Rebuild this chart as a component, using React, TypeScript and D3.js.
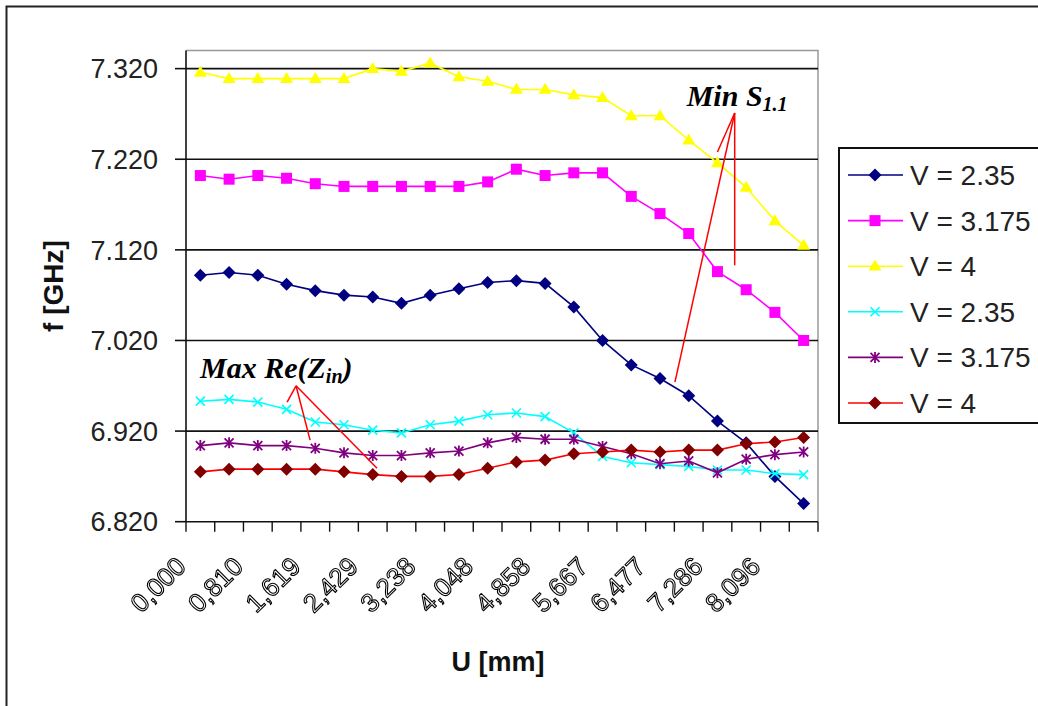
import React from "react";
import * as d3 from "d3";

// Displacement U [mm] (category axis, every second label is drawn)
const uCategories = [
  "0,000", "0,405", "0,810", "1,214", "1,619", "2,024", "2,429", "2,834",
  "3,238", "3,643", "4,048", "4,453", "4,858", "5,262", "5,667", "6,072",
  "6,477", "6,881", "7,286", "7,691", "8,096", "8,501",
];

// Frequency [GHz] of minimum S1.1
const minS11_v235 = [
  7.092, 7.095, 7.092, 7.082, 7.075, 7.070, 7.068, 7.061, 7.070, 7.077, 7.084,
  7.086, 7.083, 7.057, 7.020, 6.993, 6.978, 6.959, 6.931, 6.907, 6.870, 6.840,
];
const minS11_v3175 = [
  7.202, 7.198, 7.202, 7.199, 7.193, 7.190, 7.190, 7.190, 7.190, 7.190, 7.195,
  7.209, 7.202, 7.205, 7.205, 7.179, 7.160, 7.138, 7.096, 7.076, 7.051, 7.020,
];
const minS11_v4 = [
  7.316, 7.309, 7.309, 7.309, 7.309, 7.309, 7.320, 7.317, 7.326, 7.311, 7.306,
  7.297, 7.297, 7.291, 7.288, 7.268, 7.268, 7.241, 7.216, 7.189, 7.152, 7.125,
];
// Frequency [GHz] of maximum Re(Zin)
const maxRe_v235 = [
  6.953, 6.955, 6.952, 6.944, 6.930, 6.927, 6.921, 6.918, 6.927, 6.931, 6.938,
  6.940, 6.936, 6.918, 6.892, 6.885, 6.883, 6.881, 6.877, 6.877, 6.873, 6.872,
];
const maxRe_v3175 = [
  6.904, 6.907, 6.904, 6.904, 6.901, 6.896, 6.893, 6.893, 6.896, 6.898, 6.907,
  6.913, 6.911, 6.911, 6.903, 6.895, 6.884, 6.887, 6.874, 6.889, 6.894, 6.897,
];
const maxRe_v4 = [
  6.875, 6.878, 6.878, 6.878, 6.878, 6.875, 6.872, 6.870, 6.870, 6.872, 6.879,
  6.886, 6.888, 6.895, 6.897, 6.899, 6.897, 6.899, 6.899, 6.906, 6.908, 6.913,
];

const yTicks = [6.82, 6.92, 7.02, 7.12, 7.22, 7.32];
const legendLabels = ["V = 2.35", "V = 3.175", "V = 4", "V = 2.35", "V = 3.175", "V = 4"];

type Marker = "diamond" | "square" | "triangle" | "cross" | "star";
interface Series {
  values: number[];
  line: string;
  fill: string;
  marker: Marker;
}

const series: Series[] = [
  { values: minS11_v235, line: "#000080", fill: "#000080", marker: "diamond" },
  { values: minS11_v3175, line: "#FF00FF", fill: "#FF00FF", marker: "square" },
  { values: minS11_v4, line: "#FFFF00", fill: "#FFFF00", marker: "triangle" },
  { values: maxRe_v235, line: "#00FFFF", fill: "#00FFFF", marker: "cross" },
  { values: maxRe_v3175, line: "#800080", fill: "#800080", marker: "star" },
  { values: maxRe_v4, line: "#FF0000", fill: "#800000", marker: "diamond" },
];

// Callouts: apex and targets in (category index, GHz)
const minS11Callout = {
  apex: [18.6, 7.271] as [number, number],
  targets: [[18.0, 7.228], [16.52, 6.974], [18.6, 7.103]] as [number, number][],
};
const maxReCallout = {
  apex: [3.33, 6.970] as [number, number],
  targets: [[3.02, 6.952], [3.82, 6.910], [6.15, 6.879]] as [number, number][],
};

const W = 1038;
const H = 706;
const plot = { left: 186, right: 818, top: 50.5, bottom: 521.7 };
const SANS = "'Liberation Sans', Arial, sans-serif";
const SERIF = "'Liberation Serif', 'Times New Roman', serif";

function markerShape(m: Marker, cx: number, cy: number, fill: string, key: string | number) {
  switch (m) {
    case "diamond": {
      const r = 6.5;
      return <path key={key} d={`M${cx},${cy - r}L${cx + r},${cy}L${cx},${cy + r}L${cx - r},${cy}Z`} fill={fill} />;
    }
    case "square": {
      const s = 11;
      return <rect key={key} x={cx - s / 2} y={cy - s / 2} width={s} height={s} fill={fill} />;
    }
    case "triangle": {
      const w = 13, h = 11;
      return <path key={key} d={`M${cx},${cy - h * 0.6}L${cx + w / 2},${cy + h * 0.4}L${cx - w / 2},${cy + h * 0.4}Z`} fill={fill} />;
    }
    case "cross": {
      const r = 4.5;
      return (
        <path key={key} d={`M${cx - r},${cy - r}L${cx + r},${cy + r}M${cx - r},${cy + r}L${cx + r},${cy - r}`}
          stroke={fill} strokeWidth={1.6} fill="none" />
      );
    }
    case "star": {
      const r = 4.5;
      return (
        <path key={key}
          d={`M${cx - r},${cy - r}L${cx + r},${cy + r}M${cx - r},${cy + r}L${cx + r},${cy - r}M${cx},${cy - r - 1}L${cx},${cy + r + 1}`}
          stroke={fill} strokeWidth={1.8} fill="none" />
      );
    }
  }
}

export default function App() {
  const x = d3.scaleBand<number>()
    .domain(d3.range(uCategories.length))
    .range([plot.left, plot.right])
    .padding(0);
  const cx = (i: number) => plot.left + (i + 0.5) * x.step();
  const y = d3.scaleLinear().domain([6.82, 7.34]).range([plot.bottom, plot.top]);
  const line = d3.line<number>().x((_, i) => cx(i)).y((v) => y(v));
  const fmtY = d3.format(".3f");

  const callout = (c: { apex: [number, number]; targets: [number, number][] }, key: string) => (
    <g key={key} stroke="#FF0000" strokeWidth={1.5} fill="none">
      {c.targets.map((t, i) => (
        <line key={i} x1={cx(c.apex[0])} y1={y(c.apex[1])} x2={cx(t[0])} y2={y(t[1])} />
      ))}
    </g>
  );

  const legend = { x: 839, y: 148, rowH: 45.6, firstRow: 175 };

  return (
    <svg width={W} height={H} style={{ position: "absolute", left: 0, top: 0, background: "#fff" }}>
      <defs>
        {/* pass-through filter: rasterises the rotated labels with grayscale antialiasing */}
        <filter id="flat" x={0} y={0} width={W} height={H} filterUnits="userSpaceOnUse">
          <feOffset dx={0} dy={0} />
        </filter>
      </defs>
      <rect x={0} y={0} width={W} height={H} fill="#fff" />
      {/* chart frame */}
      <rect x={6.5} y={6.5} width={1200} height={900} fill="none" stroke="#222" strokeWidth={2} />

      {/* plot area border */}
      <path d={`M${plot.left},${plot.top}H${plot.right}V${plot.bottom}`} fill="none" stroke="#999" strokeWidth={1.5} />

      {/* gridlines */}
      {yTicks.slice(1).map((t) => (
        <line key={t} x1={plot.left} x2={plot.right} y1={y(t)} y2={y(t)} stroke="#111" strokeWidth={1.6} />
      ))}

      {/* y axis */}
      <line x1={plot.left} x2={plot.left} y1={plot.top} y2={plot.bottom} stroke="#111" strokeWidth={1.6} />
      {yTicks.map((t) => (
        <g key={t}>
          <line x1={plot.left - 11} x2={plot.left} y1={y(t)} y2={y(t)} stroke="#111" strokeWidth={1.6} />
          <text x={158} y={y(t)} dy="0.36em" textAnchor="end" fontFamily={SANS} fontSize={27} fill="#222">
            {fmtY(t)}
          </text>
        </g>
      ))}

      {/* x axis */}
      <line x1={plot.left} x2={plot.right} y1={plot.bottom} y2={plot.bottom} stroke="#111" strokeWidth={1.6} />
      {d3.range(uCategories.length + 1).map((i) => {
        const xx = plot.left + i * x.step();
        return <line key={i} x1={xx} x2={xx} y1={plot.bottom} y2={plot.bottom + 10} stroke="#111" strokeWidth={1.4} />;
      })}
      <g filter="url(#flat)">
        {uCategories.map((lab, i) =>
          i % 2 === 0 ? (
            <text key={lab} transform={`translate(${cx(i) - 13},${568}) rotate(-45)`} textAnchor="end"
              fontFamily={SANS} fontSize={26} fill="#fff" stroke="#000" strokeWidth={1.1}>
              {lab}
            </text>
          ) : null
        )}
      </g>

      {/* axis titles */}
      <text x={498} y={661} dy="0.36em" textAnchor="middle" fontFamily={SANS} fontWeight="bold" fontSize={27} fill="#111">
        U [mm]
      </text>
      <text transform={`translate(53,${(plot.top + plot.bottom) / 2}) rotate(-90)`} dy="0.36em" textAnchor="middle"
        fontFamily={SANS} fontWeight="bold" fontSize={28} fill="#111">
        f [GHz]
      </text>

      {/* series */}
      {series.map((s, si) => (
        <g key={si}>
          <path d={line(s.values) ?? ""} fill="none" stroke={s.line} strokeWidth={1.6} />
          {s.values.map((v, i) => markerShape(s.marker, cx(i), y(v), s.fill, i))}
        </g>
      ))}

      {/* callouts */}
      {callout(minS11Callout, "min")}
      {callout(maxReCallout, "max")}
      <text x={cx(minS11Callout.apex[0]) - 48} y={y(minS11Callout.apex[1]) - 7} fontFamily={SERIF}
        fontWeight="bold" fontStyle="italic" fontSize={30} fill="#000">
        Min S<tspan fontSize={20} dy={5}>1.1</tspan>
      </text>
      <text x={cx(maxReCallout.apex[0]) - 96} y={y(maxReCallout.apex[1]) - 8} fontFamily={SERIF}
        fontWeight="bold" fontStyle="italic" fontSize={30} fill="#000">
        Max Re(Z<tspan fontSize={20} dy={5}>in</tspan><tspan dy={-5}>)</tspan>
      </text>

      {/* legend */}
      <rect x={legend.x} y={legend.y} width={260} height={275} fill="#fff" stroke="#111" strokeWidth={2} />
      {series.map((s, i) => {
        const ry = legend.firstRow + i * legend.rowH;
        return (
          <g key={i}>
            <line x1={848} x2={903} y1={ry} y2={ry} stroke={s.line} strokeWidth={1.6} />
            {markerShape(s.marker, 875, ry, s.fill, "m")}
            <text x={910} y={ry} dy="0.36em" fontFamily={SANS} fontSize={28} fill="#222">
              {legendLabels[i]}
            </text>
          </g>
        );
      })}
    </svg>
  );
}
